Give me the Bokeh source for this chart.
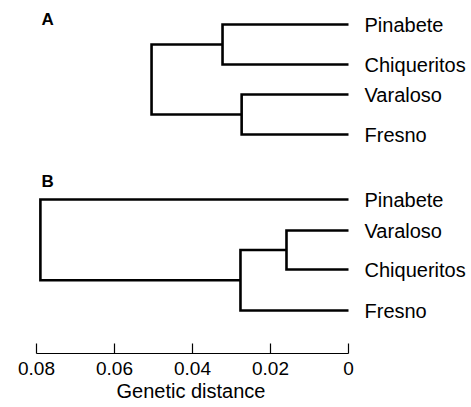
from bokeh.plotting import figure
from bokeh.models import Range1d, FixedTicker, ColumnDataSource, Title
from bokeh.core.properties import value
from bokeh.embed import file_html
from bokeh.resources import INLINE

# ---- data ----
# Tree A: leaves top to bottom, merges (child, child, genetic distance)
leaves_a = ["Pinabete", "Chiqueritos", "Varaloso", "Fresno"]
merges_a = [("Pinabete", "Chiqueritos", 0.0323),
            ("Varaloso", "Fresno", 0.0274),
            ("n0", "n1", 0.0505)]
# Tree B
leaves_b = ["Pinabete", "Varaloso", "Chiqueritos", "Fresno"]
merges_b = [("Varaloso", "Chiqueritos", 0.0159),
            ("n0", "Fresno", 0.0277),
            ("Pinabete", "n1", 0.0790)]

tick_values = [0.08, 0.06, 0.04, 0.02, 0.0]
tick_labels = ["0.08", "0.06", "0.04", "0.02", "0"]
panel_names = ["A", "B"]
axis_title = "Genetic distance"

# ---- layout (row slots) ----
rows_a = [0.0, 1.0, 1.75, 2.75]
rows_b = [4.375, 5.15, 6.125, 7.15]
panel_rows = [-0.1375, 3.9125]
panel_x = 0.0787

FONT = "Liberation Sans"


def tree_paths(leaves, rows, merges):
    pos = {name: (0.0, r) for name, r in zip(leaves, rows)}
    xs, ys = [], []
    for i, (a, b, h) in enumerate(merges):
        ha, ya = pos[a]
        hb, yb = pos[b]
        ym = (ya + yb) / 2.0
        xs.append([ha, h, h, h, hb])
        ys.append([ya, ya, ym, yb, yb])
        pos["n%d" % i] = (h, ym)
    return xs, ys


p = figure(frame_width=463, frame_height=345, output_backend="svg",
           toolbar_location=None,
           x_range=Range1d(0.08 + 28 / 3900, -123 / 3900),
           y_range=Range1d(8.225, -0.4),
           min_border_left=8, min_border_right=0, min_border_top=8,
           min_border_bottom=0)
p.outline_line_color = None
p.grid.visible = False
p.yaxis.visible = False

for leaves, rows, merges in [(leaves_a, rows_a, merges_a), (leaves_b, rows_b, merges_b)]:
    xs, ys = tree_paths(leaves, rows, merges)
    p.multi_line(xs, ys, line_color="black", line_width=2.6, line_join="miter")
    src = ColumnDataSource(dict(x=[0.0] * len(leaves), y=rows, t=leaves))
    p.text(x="x", y="y", text="t", source=src, x_offset=16,
           text_font=value(FONT), text_font_size="20px", text_color="black",
           text_align="left", text_baseline="middle")

p.text(x=[panel_x] * 2, y=panel_rows, text=panel_names,
       text_font=value(FONT), text_font_size="17px", text_font_style="bold",
       text_color="black", text_align="left", text_baseline="middle")

ax = p.xaxis[0]
ax.ticker = FixedTicker(ticks=tick_values)
ax.minor_tick_line_color = None
ax.major_label_overrides = {v: l for v, l in zip(tick_values, tick_labels)}
ax.bounds = (0.0, 0.08)
ax.axis_line_width = 1.2
ax.major_tick_line_width = 1.2
ax.major_tick_in = 10
ax.major_tick_out = 0
ax.major_label_standoff = 8
ax.major_label_text_font = FONT
ax.major_label_text_font_size = "19px"
ax.major_label_text_color = "black"

# axis title centred under the bounded axis (0.08 .. 0), not under the frame
p.add_layout(Title(text=axis_title, align="left", offset=108, standoff=0,
                   text_font=FONT, text_font_size="20px",
                   text_font_style="normal", text_color="black"), "below")

open("out.html", "w").write(file_html(p, INLINE))
